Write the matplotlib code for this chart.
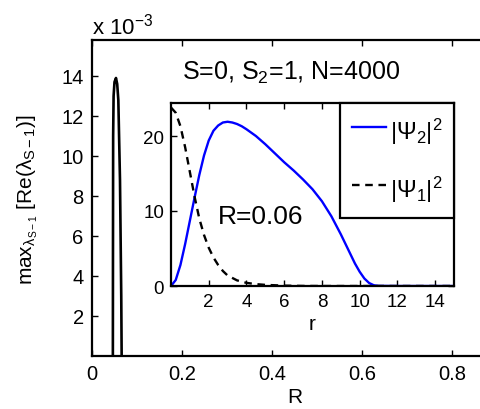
import matplotlib
matplotlib.use("Agg")
import matplotlib.pyplot as plt
import numpy as np

plt.rcParams['font.family'] = ['Liberation Sans', 'DejaVu Sans']
plt.rcParams['mathtext.fontset'] = 'custom'
plt.rcParams['mathtext.rm'] = 'Liberation Sans'
plt.rcParams['mathtext.it'] = 'Liberation Sans'
plt.rcParams['mathtext.default'] = 'regular'

# main curve: max growth rate vs R (values in units of 1e-3)
R = [0.0462, 0.0466, 0.0470, 0.0480, 0.0500, 0.0533, 0.0560, 0.0585, 0.0622, 0.0650, 0.0668]
growth = [-3.0, 5.0, 11.0, 13.0, 13.7, 13.9, 13.6, 12.8, 8.8, 3.0, -3.0]

# inset: radial profiles at R=0.06
r_psi2 = [0, 0.25, 0.5, 0.75, 1.0, 1.25, 1.5, 1.75, 2.0, 2.25, 2.5, 2.75, 3.0, 3.25, 3.5,
          3.75, 4.0, 4.5, 5.0, 5.5, 6.0, 6.5, 7.0, 7.5, 8.0, 8.5, 9.0, 9.5, 9.75, 10.0,
          10.25, 10.5, 10.75, 11.0, 12.0, 13.0, 14.0, 15.0]
psi2 = [0, 0.8, 2.8, 5.6, 8.7, 11.8, 14.8, 17.4, 19.4, 20.7, 21.4, 21.8, 21.9, 21.8, 21.6,
        21.3, 20.9, 20.0, 18.9, 17.7, 16.5, 15.4, 14.2, 12.9, 11.3, 9.3, 6.9, 4.3, 3.0, 1.9,
        1.0, 0.4, 0.1, 0.02, 0, 0, 0, 0]
r_psi1 = [0, 0.25, 0.5, 0.75, 1.0, 1.25, 1.5, 1.75, 2.0, 2.25, 2.5, 2.75, 3.0, 3.5, 4.0,
          4.5, 5.0, 6.0, 7.0, 8.0, 10.0, 12.0, 15.0]
psi1 = [23.8, 23.1, 21.3, 18.5, 15.2, 11.9, 9.0, 6.8, 5.1, 3.8, 2.8, 2.0, 1.4, 0.75, 0.42,
        0.25, 0.15, 0.05, 0.01, 0, 0, 0, 0]

main_xticks = [0, 0.2, 0.4, 0.6, 0.8]
main_yticks = [2, 4, 6, 8, 10, 12, 14]
inset_xticks = [2, 4, 6, 8, 10, 12, 14]
inset_yticks = [0, 10, 20]

fig = plt.figure(figsize=(4.8, 4.1), dpi=100)
ax = fig.add_axes([92/480, 53/410, 405/480, 316/410])
ax.plot(R, np.array(growth) * 1e-3, color='black', lw=1.9)
ax.set_xlim(0, 0.9)
ax.set_ylim(0, 15.8e-3)
ax.set_xticks(main_xticks)
ax.set_xticklabels([f'{t:g}' for t in main_xticks])
ax.set_yticks(np.array(main_yticks) * 1e-3)
ax.set_yticklabels([str(t) for t in main_yticks])
ax.tick_params(direction='in', length=4, width=1, labelsize=14.5, top=True, right=True, pad=6)
for s in ax.spines.values():
    s.set_linewidth(1.6)
ax.set_xlabel('R', fontsize=15, labelpad=3)
ax.set_ylabel(r'max$_{\lambda_{S-1}}$ [Re($\lambda_{S-1}$)]', fontsize=15)
ax.yaxis.set_label_coords(-0.128, 0.497)
ax.text(0, 1 + 6/316, r'x 10$^{-3}$', transform=ax.transAxes, ha='left', va='baseline', fontsize=16)
ax.text(0.491, 0.899, r'S=0, S$_2$=1, N=4000', transform=ax.transAxes,
        ha='center', va='center', fontsize=18)

# inset
axi = fig.add_axes([171/480, 123/410, 283/480, 183/410])
axi.plot(r_psi2, psi2, color='#0000ff', lw=1.7, label=r'$|\Psi_2|^2$')
axi.plot(r_psi1, psi1, color='black', lw=1.7, ls=(0, (3.2, 2.4)), label=r'$|\Psi_1|^2$')
axi.set_xlim(0, 15)
axi.set_ylim(0, 24.4)
axi.set_xticks(inset_xticks)
axi.set_yticks(inset_yticks)
axi.tick_params(direction='in', length=4, width=1, labelsize=13.5, top=True, right=True, pad=5)
for s in axi.spines.values():
    s.set_linewidth(1.6)
axi.set_xlabel('r', fontsize=15, labelpad=3)
axi.text(4.75, 9.3, 'R=0.06', ha='center', va='center', fontsize=19)
leg = axi.legend(loc='upper right', bbox_to_anchor=(1, 1), borderaxespad=0, fancybox=False,
                 framealpha=1, edgecolor='black', fontsize=17, handlelength=1.45,
                 handletextpad=0.15, handleheight=1.75, labelspacing=1.1, borderpad=0.5)
leg.get_frame().set_linewidth(1.6)

fig.savefig('out.png', dpi=100)
